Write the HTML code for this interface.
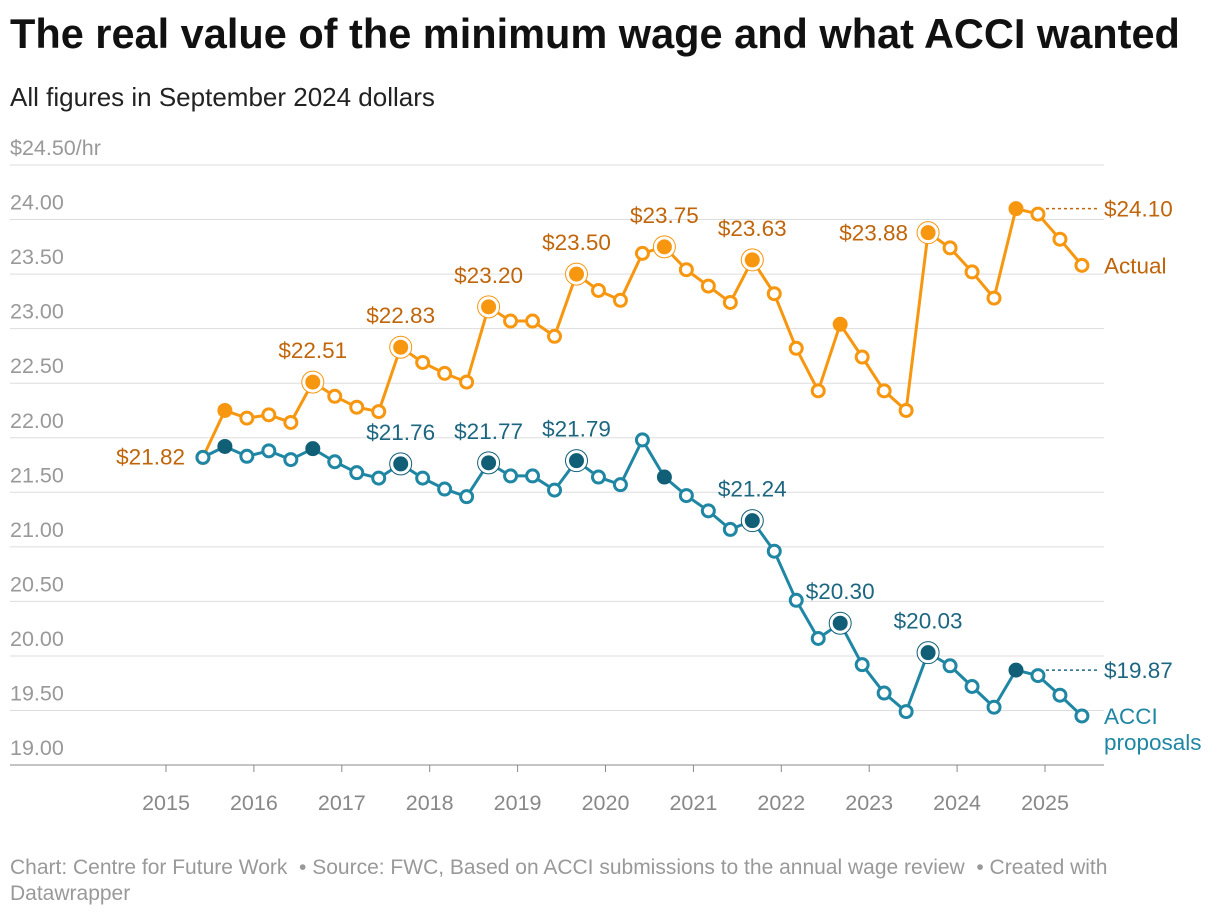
<!DOCTYPE html>
<html><head><meta charset="utf-8"><style>
body{margin:0;background:#fff;width:1220px;height:918px;overflow:hidden;font-family:"Liberation Sans",sans-serif}
#title{position:absolute;left:10px;top:10px;font-size:41.5px;font-weight:bold;color:#111;white-space:nowrap}
#sub{position:absolute;left:10px;top:82px;font-size:26px;color:#222}
#foot{position:absolute;left:10px;top:855px;font-size:21px;color:#999;line-height:26px;width:1160px}
svg{position:absolute;left:0;top:0}
</style></head><body>
<div id="title">The real value of the minimum wage and what ACCI wanted</div>
<div id="sub">All figures in September 2024 dollars</div>
<svg id="chart" width="1220" height="918"></svg>
<div id="foot">Chart: Centre for Future Work &nbsp;• Source: FWC, Based on ACCI submissions to the annual wage review &nbsp;• Created with Datawrapper</div>
<script>
const yTicks=[19,19.5,20,20.5,21,21.5,22,22.5,23,23.5,24,24.5];
const xTicks=[2015,2016,2017,2018,2019,2020,2021,2022,2023,2024,2025];
const startYear=2015.42;
const actual=[21.82,22.25,22.18,22.21,22.14,22.51,22.38,22.28,22.24,22.83,22.69,22.59,22.51,23.20,23.07,23.07,22.93,23.50,23.35,23.26,23.69,23.75,23.54,23.39,23.24,23.63,23.32,22.82,22.43,23.04,22.74,22.43,22.25,23.88,23.74,23.52,23.28,24.10,24.05,23.82,23.58];
const acci=[21.82,21.92,21.83,21.88,21.80,21.90,21.78,21.68,21.63,21.76,21.63,21.53,21.46,21.77,21.65,21.65,21.52,21.79,21.64,21.57,21.98,21.64,21.47,21.33,21.16,21.24,20.96,20.51,20.16,20.30,19.92,19.66,19.49,20.03,19.91,19.72,19.53,19.87,19.82,19.64,19.45];
const filledIdx=[1,5,9,13,17,21,25,29,33,37];
const actualRing=[5,9,13,17,21,25,33];
const acciRing=[9,13,17,25,29,33];
const actualLabels=[5,9,13,17,21,25,33];
const acciLabels=[9,13,17,25,29,33];
const svg=document.getElementById('chart');
const NS='http://www.w3.org/2000/svg';
const x=t=>166+(t-2015)*87.9;
const y=v=>165+(24.5-v)*109.1;
const xi=i=>x(startYear+i*0.25);
function mk(tag,attrs,parent){const e=document.createElementNS(NS,tag);for(const k in attrs)e.setAttribute(k,attrs[k]);(parent||svg).appendChild(e);return e;}
yTicks.forEach(v=>{
  const g=mk('line',{x1:10,x2:1104,y1:y(v),y2:y(v),stroke:v===19?'#888':'#ddd','stroke-width':1});
  
  
  const t=mk('text',{x:10,y:y(v)-10,'font-size':21.5,fill:'#999'});
  t.textContent=v===24.5?'$24.50/hr':v.toFixed(2);
  
  
});
xTicks.forEach(yr=>{
  const l=mk('line',{x1:x(yr),x2:x(yr),y1:765,y2:772,stroke:'#888'});
  
  
  const t=mk('text',{x:x(yr),y:810,'font-size':21.5,fill:'#888','text-anchor':'middle'});
  t.textContent=yr;
  
  
});
function series(data,col,dark,lblCol,rings,labels,name){
  const p=mk('polyline',{points:data.map((v,i)=>xi(i)+','+y(v)).join(' '),fill:'none',stroke:col,'stroke-width':3,'stroke-linejoin':'round'});
  
  
  data.forEach((v,i)=>{
    const f=filledIdx.includes(i);
    if(rings.includes(i)){const r=mk('circle',{cx:xi(i),cy:y(v),r:11,fill:'#fff',stroke:dark,'stroke-width':1});
      
      }
    const c=mk('circle',{cx:xi(i),cy:y(v),r:f?7.5:6,fill:f?dark:'#fff',stroke:f?dark:col,'stroke-width':f?0:3});
    
    
  });
  labels.forEach(i=>{
    const left=(name==='actual'&&i===33);
    const t=mk('text',{x:left?xi(i)-20:xi(i),y:left?y(data[i])+8:y(data[i])-24,'font-size':22.5,fill:lblCol,'text-anchor':left?'end':'middle'});
    t.textContent='$'+data[i].toFixed(2);
    
    
  });
}
series(actual,'#f7960f','#f7960f','#c0650a',actualRing,actualLabels,'actual');
series(acci,'#1f86a3','#115f77','#1d6680',acciRing,acciLabels,'acci');
const first=mk('text',{x:185,y:y(actual[0])+7,'font-size':22.5,fill:'#c0650a','text-anchor':'end'});
first.textContent='$'+actual[0].toFixed(2);


function endLabel(v,col,txt,name){
  const l=mk('line',{x1:xi(38)+8,x2:1098,y1:y(v),y2:y(v),stroke:col,'stroke-dasharray':'3,3','stroke-width':1.5});
  
  
  const t=mk('text',{x:1104,y:y(v)+8,'font-size':22.5,fill:col});
  t.textContent=txt;
  
  
}
endLabel(actual[37],'#c0650a','$'+actual[37].toFixed(2),'actual');
endLabel(acci[37],'#1d6680','$'+acci[37].toFixed(2),'acci');
const la=mk('text',{x:1104,y:y(actual[40])+8,'font-size':22.5,fill:'#c0650a'});la.textContent='Actual';


const lb=mk('text',{x:1104,y:y(acci[40])+8,'font-size':22.5,fill:'#1f86a3'});lb.textContent='ACCI';


const lc=mk('text',{x:1104,y:y(acci[40])+34,'font-size':22.5,fill:'#1f86a3'});lc.textContent='proposals';


</script>
</body></html>
